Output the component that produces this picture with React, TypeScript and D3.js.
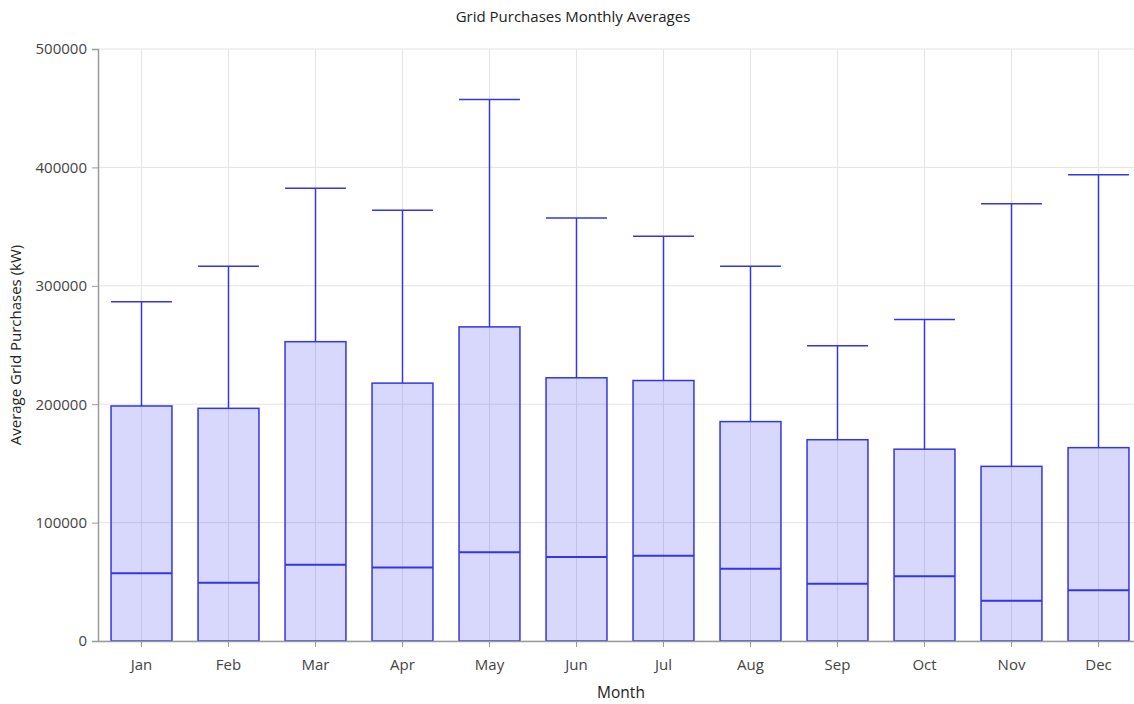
import * as d3 from 'd3';
import { useEffect, useRef } from 'react';

const months = ['Jan', 'Feb', 'Mar', 'Apr', 'May', 'Jun', 'Jul', 'Aug', 'Sep', 'Oct', 'Nov', 'Dec'];
const lowValues = [0, 0, 0, 0, 0, 0, 0, 0, 0, 0, 0, 0];
const medianValues = [57300, 49300, 64300, 62000, 75000, 71000, 72000, 61000, 48400, 54600, 34000, 42800];
const upperQuartiles = [198500, 196500, 252800, 217800, 265300, 222300, 220000, 185300, 170000, 162000, 147500, 163300];
const maxValues = [286500, 316500, 382300, 363800, 457300, 357300, 341800, 316500, 249300, 271500, 369300, 393800];
const yTicks = [0, 100000, 200000, 300000, 400000, 500000];

const width = 1134;
const height = 704;
const margin = { top: 49, right: -8, bottom: 63, left: 98 };

const font = '"Segoe UI", "Open Sans", "Noto Sans", sans-serif';
const strokeColor = '#3535e6';
const fillColor = 'rgba(60, 60, 245, 0.2)';

export default function App() {
    const ref = useRef<SVGSVGElement>(null);

    useEffect(() => {
        if (!ref.current) return;
        const svg = d3.select(ref.current);
        svg.selectAll('*').remove();

        const x = d3
            .scaleBand<string>()
            .domain(months)
            .range([margin.left, width - margin.right])
            .paddingInner(0.3)
            .paddingOuter(0.15);
        const y = d3.scaleLinear().domain([0, 500000]).range([height - margin.bottom, margin.top]);
        const center = (m: string) => (x(m) ?? 0) + x.bandwidth() / 2;

        // grid
        const grid = svg.append('g');
        grid.selectAll('line.h')
            .data(yTicks)
            .join('line')
            .attr('x1', margin.left)
            .attr('x2', width)
            .attr('y1', (d) => y(d))
            .attr('y2', (d) => y(d))
            .attr('stroke', '#e4e4e4');
        grid.selectAll('line.v')
            .data(months)
            .join('line')
            .attr('x1', center)
            .attr('x2', center)
            .attr('y1', margin.top)
            .attr('y2', height - margin.bottom)
            .attr('stroke', '#e4e4e4');

        // boxes
        const boxes = svg.append('g');
        months.forEach((m, i) => {
            const x0 = x(m) ?? 0;
            const bw = x.bandwidth();
            const cx = center(m);
            const g = boxes.append('g');
            g.append('line')
                .attr('x1', cx)
                .attr('x2', cx)
                .attr('y1', y(upperQuartiles[i]))
                .attr('y2', y(maxValues[i]))
                .attr('stroke', strokeColor)
                .attr('stroke-width', 1.5);
            g.append('line')
                .attr('x1', x0)
                .attr('x2', x0 + bw)
                .attr('y1', y(maxValues[i]))
                .attr('y2', y(maxValues[i]))
                .attr('stroke', strokeColor)
                .attr('stroke-width', 1.5);
            g.append('rect')
                .attr('x', x0)
                .attr('width', bw)
                .attr('y', y(upperQuartiles[i]))
                .attr('height', y(lowValues[i]) - y(upperQuartiles[i]))
                .attr('fill', fillColor)
                .attr('stroke', strokeColor)
                .attr('stroke-width', 1.5);
            g.append('line')
                .attr('x1', x0)
                .attr('x2', x0 + bw)
                .attr('y1', y(medianValues[i]))
                .attr('y2', y(medianValues[i]))
                .attr('stroke', strokeColor)
                .attr('stroke-width', 2);
        });

        // axes
        const yAxis = svg
            .append('g')
            .attr('transform', `translate(${margin.left},0)`)
            .call(d3.axisLeft(y).tickValues(yTicks).tickSize(6).tickPadding(5).tickFormat(d3.format('d')));
        yAxis.select('.domain').attr('stroke', '#9a9a9a').attr('stroke-width', 1.5);
        yAxis.selectAll('.tick line').attr('stroke', '#9a9a9a');
        yAxis.selectAll('text').attr('fill', '#444').style('font-family', font).style('font-size', '15px');

        const xAxis = svg
            .append('g')
            .attr('transform', `translate(0,${height - margin.bottom})`)
            .call(d3.axisBottom(x).tickSize(6).tickPadding(12).tickSizeOuter(0));
        xAxis.select('.domain').attr('stroke', '#9a9a9a').attr('stroke-width', 1.5);
        xAxis.selectAll('.tick line').attr('stroke', '#9a9a9a');
        xAxis.selectAll('text').attr('fill', '#444').style('font-family', font).style('font-size', '15px');

        // titles
        svg.append('text')
            .attr('x', 573)
            .attr('y', 22)
            .attr('text-anchor', 'middle')
            .attr('fill', '#222')
            .style('font-family', font)
            .style('font-size', '15px')
            .text('Grid Purchases Monthly Averages');
        svg.append('text')
            .attr('x', 621)
            .attr('y', 698)
            .attr('text-anchor', 'middle')
            .attr('fill', '#222')
            .style('font-family', font)
            .style('font-size', '15.5px')
            .text('Month');
        svg.append('text')
            .attr('transform', `translate(21,${(margin.top + height - margin.bottom) / 2}) rotate(-90)`)
            .attr('text-anchor', 'middle')
            .attr('fill', '#222')
            .style('font-family', font)
            .style('font-size', '15px')
            .text('Average Grid Purchases (kW)');
    }, []);

    return (
        <svg
            ref={ref}
            width={width}
            height={height}
            style={{ position: 'absolute', left: 0, top: 0, background: '#fff' }}
        />
    );
}
